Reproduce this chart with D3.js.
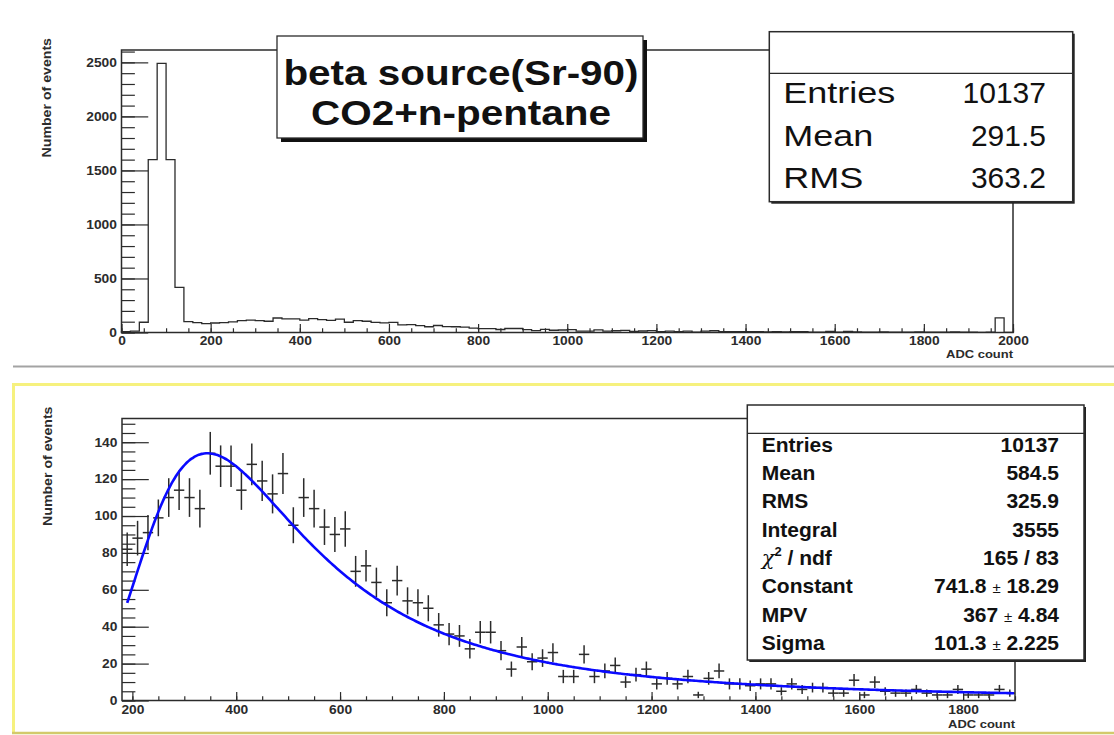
<!DOCTYPE html>
<html>
<head>
<meta charset="utf-8">
<script src="https://cdn.jsdelivr.net/npm/d3@7"></script>
<style>
  body { margin: 0; background: #fff; }
  svg { display: block; }
  text { font-family: "Liberation Sans", Arial, Helvetica, sans-serif; }
</style>
</head>
<body>
<svg id="canvas" width="1114" height="735"></svg>
<script>
// ---- Sr-90 beta source, CO2 + n-pentane: ADC spectrum ----
const binWidth = 20;

// counts per 20-channel bin, 0 .. 180 ADC
const pedestalBins = [8, 12, 95, 1600, 2490, 1600, 418, 100, 92];

// counts per 20-channel bin, 180 .. 1900 ADC (the fitted window)
const signalBins = [
  82, 88, 91, 99, 110, 114, 110, 104, 134, 127,
  127, 114, 128, 119, 112, 123, 95, 110, 104, 94,
  90, 93, 70, 73, 64, 53, 65, 54, 53, 50,
  41, 36, 35, 28, 37, 37, 27, 17, 29, 21,
  23, 26, 13, 13, 25, 13, 16, 19, 10, 14,
  17, 9, 12, 9, 13, 3, 12, 16, 9, 9,
  8, 9, 9, 5, 9, 6, 7, 7, 4, 4,
  11, 3, 10, 5, 4, 4, 6, 4, 3, 3,
  6, 3, 3, 3, 6, 4
];

// counts per 20-channel bin, 1900 .. 2000 ADC
const overflowBins = [3, 2, 4, 135, 2];

const legendLines = ["beta source(Sr-90)", "CO2+n-pentane"];

const fullStatNames = ["Entries", "Mean", "RMS"];
const fullStatValues = ["10137", "291.5", "363.2"];

const fitStatNames = ["Entries", "Mean", "RMS", "Integral", "chi2/ndf"];
const fitStatValues = ["10137", "584.5", "325.9", "3555", "165 / 83"];

// Landau fit parameters and their errors
const parNames = ["Constant", "MPV", "Sigma"];
const parValues = [741.8, 367, 101.3];
const parErrors = [18.29, 4.84, 2.225];
const fitRange = [190, 1900];

const fullXTicks = d3.range(0, 2001, 200);
const fullYTicks = d3.range(0, 2501, 500);
const zoomXTicks = d3.range(200, 1801, 200);
const zoomYTicks = d3.range(0, 141, 20);

const axisTitleY = "Number of events";
const axisTitleX = "ADC count";

// ---------------------------------------------------------------
const svg = d3.select("#canvas");
const INK = "#2b2b2b";

// ROOT TMath::Landau (CERNLIB DENLAN), unnormalised
function landauDensity(v) {
  const p1 = [0.4259894875, -0.1249762550, 0.03984243700, -0.006298287635, 0.001511162253],
        q1 = [1.0, -0.3388260629, 0.09594393323, -0.01608042283, 0.003778942063],
        p2 = [0.1788541609, 0.1173957403, 0.01488850518, -0.001394989411, 0.0001283617211],
        q2 = [1.0, 0.7428795082, 0.3153932961, 0.06694219548, 0.008790609714],
        p3 = [0.1788544503, 0.09359161662, 0.006325387654, 0.00006611667319, -0.000002031049101],
        q3 = [1.0, 0.6097809921, 0.2560616665, 0.04746722384, 0.006957301675],
        p4 = [0.9874054407, 118.6723273, 849.2794360, -743.7792444, 427.0262186],
        q4 = [1.0, 106.8615961, 337.6496214, 2016.712389, 1597.063511],
        p5 = [1.003675074, 167.5702434, 4789.711289, 21217.86767, -22324.94910],
        q5 = [1.0, 156.9424537, 3745.310488, 9834.698876, 66924.28357],
        p6 = [1.000827619, 664.9143136, 62972.92665, 475554.6998, -5743609.109],
        q6 = [1.0, 651.4101098, 56974.73333, 165917.4725, -2815759.939],
        a1 = [0.04166666667, -0.01996527778, 0.02709538966],
        a2 = [-1.845568670, -4.284640743];
  const poly = (c, t) => c[0] + (c[1] + (c[2] + (c[3] + c[4] * t) * t) * t) * t;
  let u;
  if (v < -5.5) {
    u = Math.exp(v + 1);
    if (u < 1e-10) return 0;
    return 0.3989422803 * (Math.exp(-1 / u) / Math.sqrt(u)) * (1 + (a1[0] + (a1[1] + a1[2] * u) * u) * u);
  }
  if (v < -1) { u = Math.exp(-v - 1); return Math.exp(-u) * Math.sqrt(u) * poly(p1, v) / poly(q1, v); }
  if (v < 1) return poly(p2, v) / poly(q2, v);
  if (v < 5) return poly(p3, v) / poly(q3, v);
  if (v < 12) { u = 1 / v; return u * u * poly(p4, u) / poly(q4, u); }
  if (v < 50) { u = 1 / v; return u * u * poly(p5, u) / poly(q5, u); }
  if (v < 300) { u = 1 / v; return u * u * poly(p6, u) / poly(q6, u); }
  u = 1 / (v - v * Math.log(v) / (v + 1));
  return u * u * (1 + (a2[0] + a2[1] * u) * u);
}
const landau = x => parValues[0] * landauDensity((x - parValues[1]) / parValues[2]);

// text helpers: the small ROOT fonts run a bit wide
function styleTickText(sel, size) {
  sel.attr("font-size", size).attr("font-weight", "bold").attr("fill", INK)
     .attr("font-family", "'Liberation Sans', Arial, sans-serif");
}

function drawFrameAxes(g, x, y, f, o) {
  // frame
  g.append("rect")
    .attr("x", f.left).attr("y", f.top)
    .attr("width", f.right - f.left).attr("height", f.bottom - f.top)
    .attr("fill", "none").attr("stroke", INK).attr("stroke-width", 1.5);

  const majX = 0.03 * (f.bottom - f.top), majY = 0.03 * (f.right - f.left);

  // x axis, ticks pointing into the frame
  const gx = g.append("g").attr("transform", `translate(0,${f.bottom})`);
  gx.append("g").call(d3.axisBottom(x).tickValues(o.xMinor).tickSize(-majX / 2).tickFormat(""))
    .call(a => a.select(".domain").remove());
  gx.append("g").call(d3.axisBottom(x).tickValues(o.xMajor).tickSize(-majX).tickPadding(o.xPad)
      .tickFormat(d3.format("d")))
    .call(a => a.select(".domain").remove())
    .call(a => a.selectAll("text").call(styleTickText, 12).attr("transform", "scale(1.15,1)"));
  gx.selectAll("line").attr("stroke", INK).attr("stroke-width", 1.2);

  // y axis, ticks pointing into the frame
  const gy = g.append("g").attr("transform", `translate(${f.left},0)`);
  gy.append("g").call(d3.axisLeft(y).tickValues(o.yMinor).tickSize(-majY / 2).tickFormat(""))
    .call(a => a.select(".domain").remove());
  gy.append("g").call(d3.axisLeft(y).tickValues(o.yMajor).tickSize(-majY).tickPadding(4)
      .tickFormat(d3.format("d")))
    .call(a => a.select(".domain").remove())
    .call(a => a.selectAll("text").call(styleTickText, 12).attr("transform", "scale(1.15,1)"));
  gy.selectAll("line").attr("stroke", INK).attr("stroke-width", 1.2);

  // axis titles
  g.append("text")
    .attr("transform", `translate(${o.yTitleX},${f.top - 12}) rotate(-90) scale(1.18,1)`)
    .attr("text-anchor", "end").attr("font-size", 12).attr("font-weight", "bold")
    .attr("fill", INK).text(axisTitleY);
  g.append("text")
    .attr("transform", `translate(${f.right},${o.xTitleY}) scale(1.18,1)`)
    .attr("text-anchor", "end").attr("font-size", 11).attr("font-weight", "bold")
    .attr("fill", INK).text(axisTitleX);
}

function statsBox(g, b) {
  g.append("rect").attr("x", b.x + 2).attr("y", b.y + 2).attr("width", b.w).attr("height", b.h)
    .attr("fill", "#222");
  g.append("rect").attr("x", b.x).attr("y", b.y).attr("width", b.w).attr("height", b.h)
    .attr("fill", "#fff").attr("stroke", INK).attr("stroke-width", 1.5);
  g.append("line").attr("x1", b.x).attr("x2", b.x + b.w)
    .attr("y1", b.y + b.header).attr("y2", b.y + b.header)
    .attr("stroke", INK).attr("stroke-width", 1.3);
}

// ================= upper pad: full spectrum =================
const F1 = { left: 121.5, right: 1013, top: 50, bottom: 332.5 };
const allBins = pedestalBins.concat(signalBins, overflowBins);
const x1 = d3.scaleLinear().domain([0, allBins.length * binWidth]).range([F1.left, F1.right]);
const y1 = d3.scaleLinear().domain([0, d3.max(allBins) * 1.05]).range([F1.bottom, F1.top]);

const pad1 = svg.append("g");
drawFrameAxes(pad1, x1, y1, F1, {
  xMajor: fullXTicks, xMinor: d3.range(0, 2001, 50),
  yMajor: fullYTicks, yMinor: d3.range(0, 2601, 100),
  xPad: 4, yTitleX: 50.5, xTitleY: 358
});

const stepPts = [[0, 0]].concat(allBins.map((c, i) => [i * binWidth, c]), [[allBins.length * binWidth, 0]]);
pad1.append("path")
  .attr("d", d3.line().x(d => x1(d[0])).y(d => y1(d[1])).curve(d3.curveStepAfter)(stepPts))
  .attr("fill", "none").attr("stroke", INK).attr("stroke-width", 1.3);

// legend box with drop shadow
const LB = { x: 277, y: 36, w: 366, h: 102 };
pad1.append("rect").attr("x", LB.x + 4).attr("y", LB.y + 4).attr("width", LB.w).attr("height", LB.h)
  .attr("fill", "#111");
pad1.append("rect").attr("x", LB.x).attr("y", LB.y).attr("width", LB.w).attr("height", LB.h)
  .attr("fill", "#fff").attr("stroke", INK).attr("stroke-width", 1.3);
pad1.selectAll("text.legend").data(legendLines).enter().append("text")
  .attr("class", "legend")
  .attr("transform", (d, i) => `translate(${LB.x + LB.w / 2 + 1},${84.5 + i * 40}) scale(1.14,1)`)
  .attr("text-anchor", "middle").attr("font-size", 35.5).attr("font-weight", "bold")
  .attr("fill", "#111").text(d => d);

// statistics box
const SB1 = { x: 769.3, y: 31.7, w: 303.4, h: 170, header: 41.6 };
statsBox(pad1, SB1);
fullStatNames.forEach((n, i) => {
  const yb = 103.3 + i * 42.5;
  pad1.append("text").attr("transform", `translate(783.3,${yb}) scale(1.2,1)`)
    .attr("font-size", 30).attr("fill", "#111").text(n);
  pad1.append("text").attr("x", 1046).attr("y", yb).attr("text-anchor", "end")
    .attr("font-size", 30).attr("fill", "#111").text(fullStatValues[i]);
});

// pad separator
svg.append("line").attr("x1", 13).attr("x2", 1114).attr("y1", 366.5).attr("y2", 366.5)
  .attr("stroke", "#a3a3a3").attr("stroke-width", 2);

// ================= lower pad: fitted window =================
// pad border (bevelled, yellow)
svg.append("line").attr("x1", 12).attr("x2", 1114).attr("y1", 384.5).attr("y2", 384.5)
  .attr("stroke", "#f6f17e").attr("stroke-width", 3);
svg.append("line").attr("x1", 13.5).attr("x2", 13.5).attr("y1", 383).attr("y2", 733)
  .attr("stroke", "#f6f17e").attr("stroke-width", 3);
svg.append("line").attr("x1", 12).attr("x2", 1114).attr("y1", 733).attr("y2", 733)
  .attr("stroke", "#d2ca6c").attr("stroke-width", 2.5);

const F2 = { left: 122, right: 1015, top: 418.5, bottom: 700.5 };
const lo2 = pedestalBins.length * binWidth;
const hi2 = lo2 + signalBins.length * binWidth;
const pts = signalBins.map((c, i) => ({ x: lo2 + (i + 0.5) * binWidth, y: c, e: Math.sqrt(c) }));
const x2 = d3.scaleLinear().domain([lo2, hi2]).range([F2.left, F2.right]);
const y2 = d3.scaleLinear().domain([0, d3.max(pts, d => d.y + d.e) * 1.05]).range([F2.bottom, F2.top]);

const pad2 = svg.append("g");
drawFrameAxes(pad2, x2, y2, F2, {
  xMajor: zoomXTicks, xMinor: d3.range(200, 1901, 50),
  yMajor: zoomYTicks, yMinor: d3.range(0, 151, 5),
  xPad: 5, yTitleX: 52, xTitleY: 728
});

// data points with error bars
const marks = pad2.append("g").attr("stroke", INK).attr("stroke-width", 1.5);
marks.selectAll("line.ex").data(pts).enter().append("line").attr("class", "ex")
  .attr("x1", d => x2(d.x - binWidth / 2)).attr("x2", d => x2(d.x + binWidth / 2))
  .attr("y1", d => y2(d.y)).attr("y2", d => y2(d.y));
marks.selectAll("line.ey").data(pts).enter().append("line").attr("class", "ey")
  .attr("x1", d => x2(d.x)).attr("x2", d => x2(d.x))
  .attr("y1", d => y2(Math.max(0, d.y - d.e))).attr("y2", d => y2(d.y + d.e));

// Landau fit curve
const curveX = d3.range(fitRange[0], fitRange[1] + 0.1, 4);
pad2.append("path")
  .attr("d", d3.line().x(d => x2(d)).y(d => y2(landau(d))).curve(d3.curveMonotoneX)(curveX))
  .attr("fill", "none").attr("stroke", "#0a0aff").attr("stroke-width", 2.6);

// fit statistics box
const SB2 = { x: 747.3, y: 405, w: 336.7, h: 255, header: 28.3 };
statsBox(pad2, SB2);
const rowY = i => 451.7 + i * 28.3;
fitStatNames.forEach((n, i) => {
  const t = pad2.append("text").attr("x", 761.7).attr("y", rowY(i))
    .attr("font-size", 21).attr("font-weight", "bold").attr("fill", "#111");
  if (n === "chi2/ndf") {
    t.append("tspan").attr("font-family", "'DejaVu Serif', serif").attr("font-style", "italic")
      .attr("font-weight", "normal").text("\u03C7");
    t.append("tspan").attr("font-size", 13).attr("dy", -9).text("2");
    t.append("tspan").attr("dy", 9).text(" / ndf");
  } else {
    t.text(n);
  }
  pad2.append("text").attr("x", 1059).attr("y", rowY(i)).attr("text-anchor", "end")
    .attr("font-size", 21).attr("font-weight", "bold").attr("fill", "#111").text(fitStatValues[i]);
});
parNames.forEach((n, j) => {
  const i = fitStatNames.length + j;
  pad2.append("text").attr("x", 761.7).attr("y", rowY(i))
    .attr("font-size", 21).attr("font-weight", "bold").attr("fill", "#111").text(n);
  const v = pad2.append("text").attr("x", 1059).attr("y", rowY(i)).attr("text-anchor", "end")
    .attr("font-size", 21).attr("font-weight", "bold").attr("fill", "#111");
  v.append("tspan").text(String(parValues[j]) + " ");
  v.append("tspan").attr("font-size", 15).attr("font-weight", "normal").text("\u00B1");
  v.append("tspan").text(" " + String(parErrors[j]));
});
</script>
</body>
</html>
